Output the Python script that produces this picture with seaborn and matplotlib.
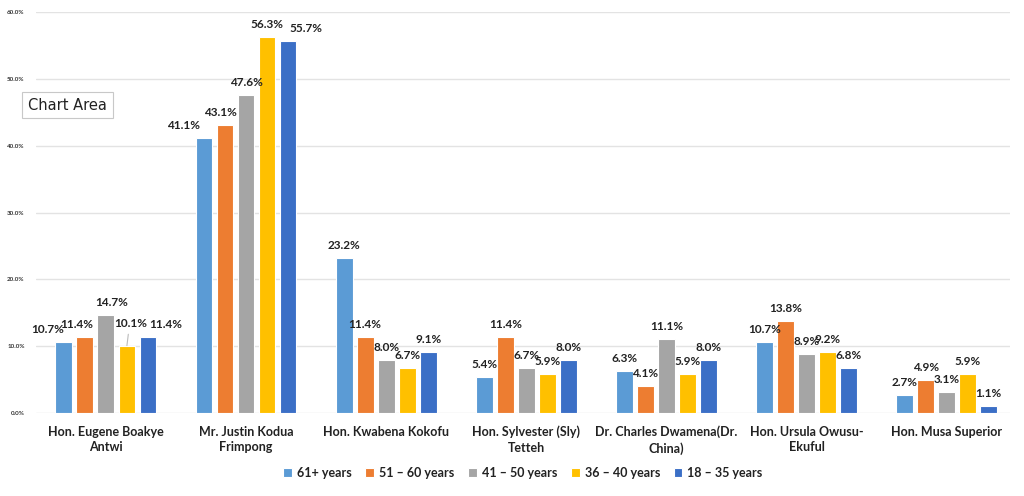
import pandas as pd
import seaborn as sns
import matplotlib.pyplot as plt

# Data
candidates = ["Hon. Eugene Boakye\nAntwi", "Mr. Justin Kodua\nFrimpong", "Hon. Kwabena Kokofu",
              "Hon. Sylvester (Sly)\nTetteh", "Dr. Charles Dwamena(Dr.\nChina)",
              "Hon. Ursula Owusu-\nEkuful", "Hon. Musa Superior"]
age_groups = ["61+ years", "51 – 60 years", "41 – 50 years", "36 – 40 years", "18 – 35 years"]
age_61_plus = [10.7, 41.1, 23.2, 5.4, 6.3, 10.7, 2.7]
age_51_60 = [11.4, 43.1, 11.4, 11.4, 4.1, 13.8, 4.9]
age_41_50 = [14.7, 47.6, 8.0, 6.7, 11.1, 8.9, 3.1]
age_36_40 = [10.1, 56.3, 6.7, 5.9, 5.9, 9.2, 5.9]
age_18_35 = [11.4, 55.7, 9.1, 8.0, 8.0, 6.8, 1.1]
colors = ["#5B9BD5", "#ED7D31", "#A5A5A5", "#FFC000", "#3B6FC6"]

series = [age_61_plus, age_51_60, age_41_50, age_36_40, age_18_35]
rows = []
for g, vals in zip(age_groups, series):
    for c, v in zip(candidates, vals):
        rows.append({"candidate": c, "age": g, "pct": v / 100})
df = pd.DataFrame(rows)

# label nudges (pixels) where the labels were moved apart to avoid overlap
nudge = {(0, 0): (-16, 0), (1, 0): (-8, 0), (2, 0): (6, 0), (3, 0): (4, 10), (4, 0): (18, 0),
         (0, 1): (-20, 0), (1, 1): (-5, 0), (4, 1): (18, 0)}

sns.set_style("white")
plt.rcParams["font.family"] = ["Lato", "DejaVu Sans"]

fig = plt.figure(figsize=(10.24, 4.96), dpi=100)
ax = fig.add_axes([0.035, 0.167, 0.951, 0.809])

sns.barplot(data=df, x="candidate", y="pct", hue="age", order=candidates, hue_order=age_groups,
            palette=colors, width=0.75, gap=0.2, ax=ax, saturation=1, legend=True,
            edgecolor="white", linewidth=0.8)

ax.set_ylim(0, 0.6)
ax.set_xlim(-0.5, 6.45)
ax.set_yticks([i / 10 for i in range(7)])
ax.set_yticklabels([f"{i * 10:.1f}%" for i in range(7)], fontsize=4.5, fontweight="bold", color="#333333")
ax.tick_params(axis="y", length=0, pad=8)
ax.tick_params(axis="x", length=0, pad=9)
ax.set_xticks(range(len(candidates)))
ax.set_xticklabels(candidates, fontsize=9, fontweight="bold", color="#222222", linespacing=1.35)
ax.grid(axis="y", color="#E3E3E3", linewidth=1)
ax.set_axisbelow(True)
for s in ax.spines.values():
    s.set_visible(False)
ax.set_xlabel("")
ax.set_ylabel("")

# data labels
px = 72 / 100
for si, (container, vals) in enumerate(zip(ax.containers, series)):
    for ci, (bar, v) in enumerate(zip(container, vals)):
        x = bar.get_x() + bar.get_width() / 2
        y = bar.get_height()
        dx, dy = nudge.get((si, ci), (0, 0))
        ax.annotate(f"{v}%", (x, y), xytext=(dx * px, (7 + dy) * px), textcoords="offset points",
                    ha="center", va="bottom", fontsize=8.5, fontweight="bold", color="#222222")
        if si == 3 and ci == 0:
            # leader line for the lifted label
            ax.annotate("", (x, y), xytext=(x + 0.01, y + 0.017), textcoords="data",
                        arrowprops=dict(arrowstyle="-", color="#BBBBBB", lw=0.8,
                                        shrinkA=0, shrinkB=0))

# legend
leg = ax.legend(loc="upper center", bbox_to_anchor=(0.5, -0.105), ncol=5, frameon=False,
                handlelength=0.7, handleheight=0.7, handletextpad=0.4, columnspacing=1.1,
                prop={"size": 9, "weight": "bold"})
for t in leg.get_texts():
    t.set_color("#222222")

# "Chart Area" tooltip
fig.text(0.066, 0.788, "Chart Area", fontsize=10.5, color="#222222", ha="center", va="center",
         family="DejaVu Sans",
         bbox=dict(boxstyle="square,pad=0.4", fc="white", ec="#C8C8C8", lw=0.8))

fig.savefig("out.png", dpi=100)
